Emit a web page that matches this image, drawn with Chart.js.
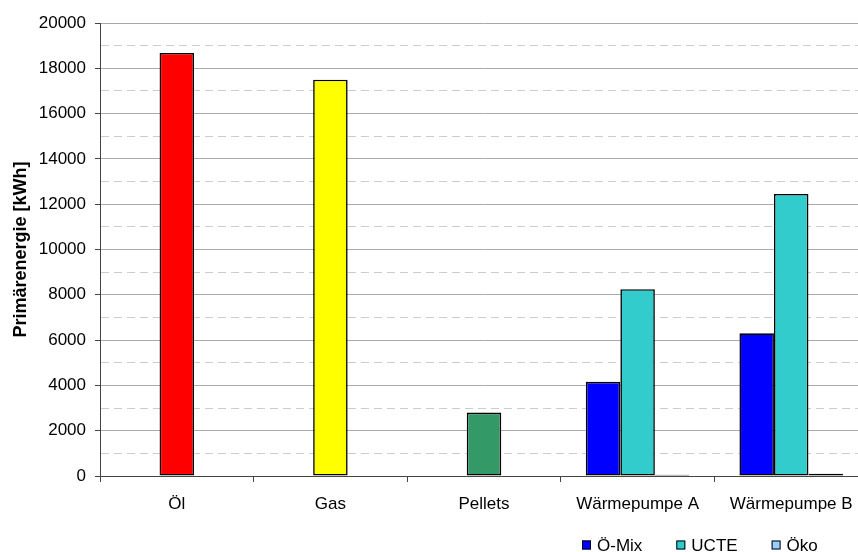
<!DOCTYPE html>
<html>
<head>
<meta charset="utf-8">
<script src="https://cdn.jsdelivr.net/npm/chart.js@4/dist/chart.umd.min.js"></script>
<style>
  html, body { margin: 0; padding: 0; background: #fff; overflow: hidden; }
  #wrap { position: relative; width: 868px; height: 552px; }
</style>
</head>
<body>
<div id="wrap"><canvas id="c" width="868" height="552"></canvas></div>
<script>
// Heating systems and their primary energy demand
const categories = ['Öl', 'Gas', 'Pellets', 'Wärmepumpe A', 'Wärmepumpe B'];
const seriesNames = ['Ö-Mix', 'UCTE', 'Öko'];
const oeMix = [null, null, null, 4160, 6300];
const ucte  = [18680, 17500, 2800, 8250, 12450];
const oeko  = [null, null, null, 50, 100];
const yTicks = [0, 2000, 4000, 6000, 8000, 10000, 12000, 14000, 16000, 18000, 20000];
const yTitle = 'Primärenergie [kWh]';

// Fossil / biomass systems use their own fill in the middle series
const ucteFills = ['#FF0000', '#FFFF00', '#339966', '#33CCCC', '#33CCCC'];
const seriesColors = ['#0000FF', '#33CCCC', '#99CCFF'];

const FONT = 'Liberation Sans, Arial, sans-serif';
Chart.defaults.font.family = FONT;
Chart.defaults.font.size = 17;
Chart.defaults.color = '#000';

const isMajor = v => yTicks.includes(v);

// Simple legend drawn in the bottom strip
const legendStrip = {
  id: 'legendStrip',
  afterDraw(chart) {
    const ctx = chart.ctx;
    ctx.save();
    ctx.font = '17px ' + FONT;
    ctx.textBaseline = 'middle';
    ctx.textAlign = 'left';
    let x = 582;
    const yc = 545;
    const box = 9;
    const gap = 6;
    chart.data.datasets.forEach(ds => {
      ctx.fillStyle = ds.legendColor;
      ctx.fillRect(x, yc - box / 2, box, box);
      ctx.strokeStyle = '#000';
      ctx.lineWidth = 1;
      ctx.strokeRect(x + 0.5, yc - box / 2 + 0.5, box - 1, box - 1);
      ctx.fillStyle = '#000';
      ctx.fillText(ds.label, x + box + gap, yc + 1);
      x += box + gap + ctx.measureText(ds.label).width + 34;
    });
    ctx.restore();
  }
};

new Chart(document.getElementById('c'), {
  type: 'bar',
  data: {
    labels: categories,
    datasets: [
      { label: seriesNames[0], data: oeMix, backgroundColor: seriesColors[0], legendColor: seriesColors[0] },
      { label: seriesNames[1], data: ucte, backgroundColor: ucteFills, legendColor: seriesColors[1] },
      { label: seriesNames[2], data: oeko, backgroundColor: seriesColors[2], legendColor: seriesColors[2] }
    ].map(d => Object.assign(d, {
      borderColor: '#000',
      borderWidth: 1.6,
      borderSkipped: false,
      categoryPercentage: 0.674,
      barPercentage: 1.0
    }))
  },
  options: {
    responsive: false,
    animation: false,
    devicePixelRatio: 1,
    layout: { padding: { top: 23, left: 10, right: 0, bottom: 0 } },
    plugins: {
      legend: { display: false },
      tooltip: { enabled: false }
    },
    scales: {
      x: {
        grid: {
          display: true,
          drawOnChartArea: false,
          drawTicks: true,
          tickLength: 6,
          tickColor: '#444',
          tickWidth: 1
        },
        border: { display: true, color: '#444', width: 1 },
        ticks: { padding: 12, color: '#000', maxRotation: 0, autoSkip: false },
        afterFit(axis) { axis.height = 76; }
      },
      y: {
        min: 0,
        max: 20000,
        ticks: {
          stepSize: 1000,
          autoSkip: false,
          padding: 9,
          color: '#000',
          callback: v => (isMajor(v) ? String(v) : '')
        },
        grid: {
          color: c => (c.tick && isMajor(c.tick.value) ? '#aaaaaa' : '#cccccc'),
          lineWidth: 1,
          tickLength: 5,
          tickColor: c => (c.tick && isMajor(c.tick.value) ? '#444' : 'rgba(0,0,0,0)')
        },
        border: {
          display: true,
          color: '#444',
          width: 1,
          dash: c => (c.tick && !isMajor(c.tick.value) ? [8, 5] : [])
        },
        title: {
          display: true,
          text: yTitle,
          font: { weight: 'bold', size: 18 },
          color: '#000',
          padding: 0
        },
        afterFit(axis) { axis.width = 90; }
      }
    }
  },
  plugins: [legendStrip]
});
</script>
</body>
</html>
